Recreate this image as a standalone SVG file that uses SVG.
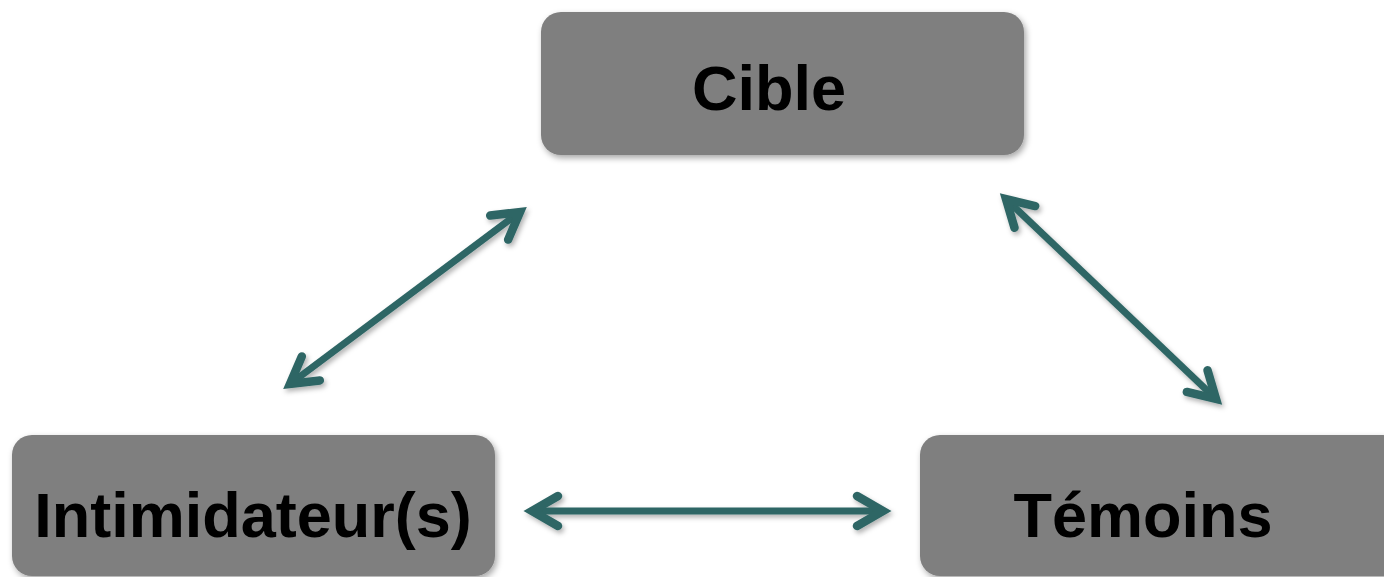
<svg xmlns="http://www.w3.org/2000/svg" width="1384" height="577" viewBox="0 0 1384 577">
<style>
.box{fill:#7f7f7f;filter:url(#sh)}
.lbl{font-family:"Liberation Sans",Arial,sans-serif;font-weight:bold;font-size:63px;fill:#000;text-anchor:middle}
.conn{stroke:#2f6665;stroke-width:7;fill:none;marker-start:url(#ah);marker-end:url(#ah)}
</style>
<defs>
<filter id="sh" x="-10%" y="-10%" width="120%" height="130%">
<feDropShadow dx="2" dy="3" stdDeviation="3" flood-color="#000" flood-opacity="0.35"/>
</filter>
<filter id="sh2" filterUnits="userSpaceOnUse" x="0" y="0" width="1384" height="577">
<feDropShadow dx="2" dy="3" stdDeviation="2.5" flood-color="#000" flood-opacity="0.3"/>
</filter>
<marker id="ah" markerUnits="userSpaceOnUse" viewBox="-40 -25 50 50" markerWidth="50" markerHeight="50" refX="0" refY="0" orient="auto-start-reverse">
<path d="M -26 -15 L 0 0 L -26 15" fill="none" stroke="#2f6665" stroke-width="8.5" stroke-linecap="round" stroke-linejoin="miter" stroke-miterlimit="10"/>
</marker>
</defs>
<g id="cible">
<rect class="box" x="541" y="12" width="483" height="143" rx="20"/>
<text class="lbl" x="769" y="110">Cible</text>
</g>
<g id="intimidateurs">
<rect class="box" x="12" y="435" width="483" height="141" rx="20"/>
<text class="lbl" x="253" y="537">Intimidateur(s)</text>
</g>
<g id="temoins">
<rect class="box" x="920" y="435" width="483" height="141" rx="20"/>
<text class="lbl" x="1143" y="537">Témoins</text>
</g>
<g id="connectors" filter="url(#sh2)">
<line class="conn" x1="290" y1="384" x2="520" y2="212"/>
<line class="conn" x1="1006" y1="199" x2="1216" y2="399"/>
<line class="conn" x1="532" y1="511" x2="883" y2="511"/>
</g>
</svg>
